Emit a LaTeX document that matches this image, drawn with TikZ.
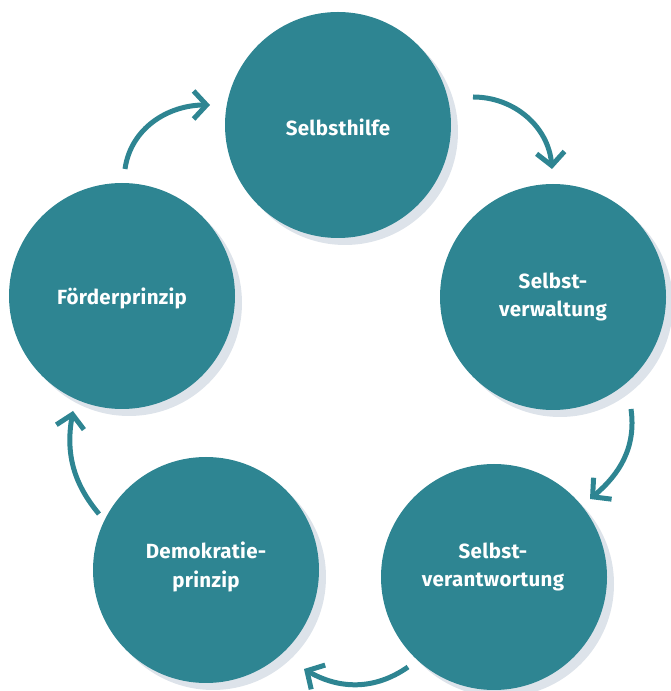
\documentclass[tikz,border=0pt]{standalone}
\usepackage{fontspec}
\setmainfont{Fira Sans}[LetterSpace=1.5]
\usetikzlibrary{arrows.meta}
\definecolor{tealc}{HTML}{2E8592}
\definecolor{shadec}{HTML}{DDE3EA}
\tikzset{
  bubble/.style={circle, fill=tealc, minimum size=226pt, inner sep=0pt},
  lbl/.style={text=white, font=\bfseries\fontsize{20.5}{28.5}\selectfont, align=center, inner sep=0pt},
  shadowc/.style={circle, fill=shadec, minimum size=226pt, inner sep=0pt},
  flow/.style={draw=tealc, line width=5pt, -{Straight Barb[length=13pt,width=28pt]}}
}
\begin{document}
\begin{tikzpicture}[x=1pt,y=1pt]
\useasboundingbox (0,0) rectangle (671,691);
% shadows
\node[shadowc] (s1) at (345,559) {};
\node[shadowc] (s2) at (560,387) {};
\node[shadowc] (s3) at (501,107) {};
\node[shadowc] (s4) at (213,114) {};
\node[shadowc] (s5) at (129,388) {};
% circles
\node[bubble] (hilfe) at (338,566) {};
\node[bubble] (verw) at (553,394) {};
\node[bubble] (verant) at (494,114) {};
\node[bubble] (demo) at (206,121) {};
\node[bubble] (foerd) at (122,395) {};
% labels
\node[lbl] (thilfe) at (338,564) {Selbsthilfe};
\node[lbl] (tverw) at (553,394) {Selbst-\\verwaltung};
\node[lbl] (tverant) at (493,124) {Selbst-\\verantwortung};
\node[lbl] (tdemo) at (206,124) {Demokratie-\\prinzip};
\node[lbl] (tfoerd) at (122,393) {Förderprinzip};
% arrow endpoints
\coordinate (a1s) at (125,522); \coordinate (a1e) at (210,586);
\coordinate (a2s) at (473,594); \coordinate (a2e) at (552,522);
\coordinate (a3s) at (631,282); \coordinate (a3e) at (590,192);
\coordinate (a4s) at (408,24);  \coordinate (a4e) at (304,22);
\coordinate (a5s) at (99,177);  \coordinate (a5e) at (73,280);
\draw[flow] (a1s) to[out=82,in=180] (a1e);
\draw[flow] (a2s) to[out=0,in=95] (a2e);
\draw[flow] (a3s) to[out=-82,in=40] (a3e);
\draw[flow] (a4s) to[out=215,in=-30] (a4e);
\draw[flow] (a5s) to[out=130,in=-100] (a5e);
\end{tikzpicture}
\end{document}
